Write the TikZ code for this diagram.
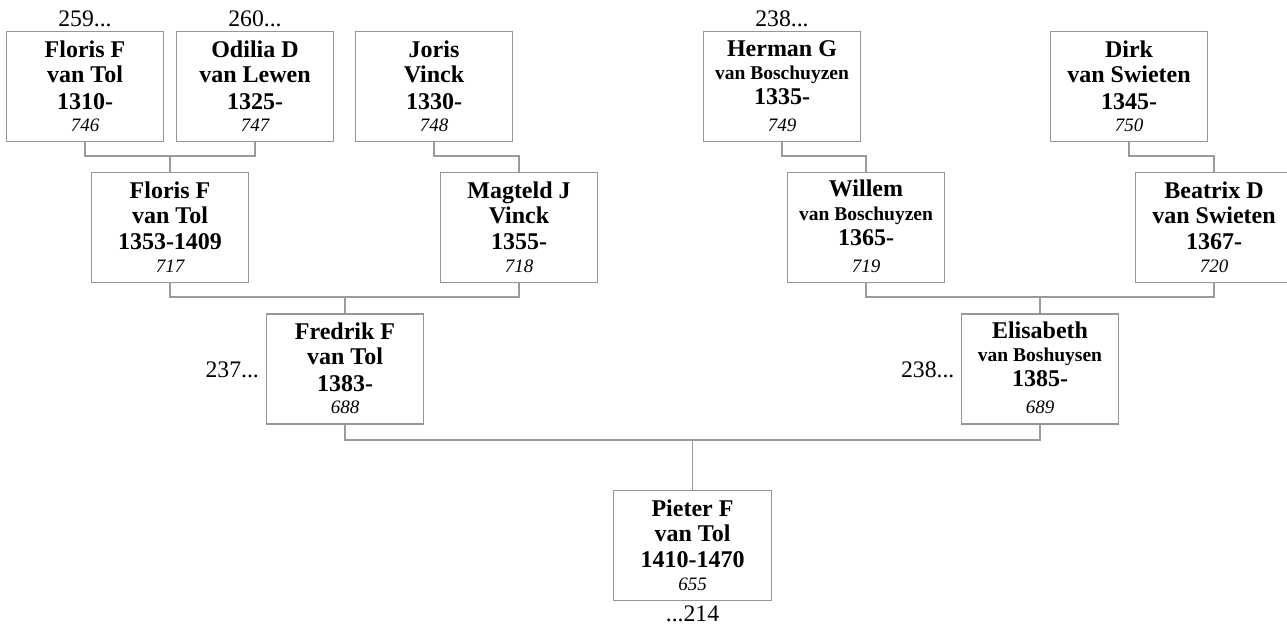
\documentclass[tikz,border=0pt]{standalone}
\usepackage{fontspec}
\setmainfont{Liberation Serif}
\definecolor{boxgray}{RGB}{150,150,150}
\definecolor{linegray}{RGB}{155,155,155}
\tikzset{
 pbox/.style={draw=boxgray, line width=1.3pt, minimum width=157.5pt, minimum height=110pt, inner sep=0pt, fill=white},
 nm/.style={anchor=base, inner sep=0pt, font=\fontsize{24}{24}\selectfont\bfseries},
 nmsmall/.style={anchor=base, inner sep=0pt, font=\fontsize{19.5}{19.5}\selectfont\bfseries},
 num/.style={anchor=base, inner sep=0pt, font=\fontsize{19}{19}\selectfont\itshape},
 reftxt/.style={inner sep=0pt, font=\fontsize{23.7}{23.7}\selectfont},
 conn/.style={draw=linegray, line width=1.4pt},
}
\newcommand\personA[7]{%
 \node[pbox] (#1) at (#2,#3) {};
 \node[nm] (#1-1) at ([yshift=-26.3pt]#1.north) {#4};
 \node[nm] (#1-2) at ([yshift=-51.3pt]#1.north) {#5};
 \node[nm] (#1-3) at ([yshift=-78pt]#1.north) {#6};
 \node[num] (#1-4) at ([yshift=-100.5pt]#1.north) {#7};
}
\newcommand\personB[7]{%
 \node[pbox] (#1) at (#2,#3) {};
 \node[nm] (#1-1) at ([yshift=-25pt]#1.north) {#4};
 \node[nmsmall] (#1-2) at ([yshift=-48.5pt]#1.north) {#5};
 \node[nm] (#1-3) at ([yshift=-73.3pt]#1.north) {#6};
 \node[num] (#1-4) at ([yshift=-100.5pt]#1.north) {#7};
}
\begin{document}
\begin{tikzpicture}[x=1pt,y=1pt]
\clip (0,0) rectangle (1287,-628);
\fill[white] (0,0) rectangle (1287,-628);
% generation 1
\personA{fl1}{85}{-86.7}{Floris F}{van Tol}{1310-}{746}
\personA{od}{255}{-86.7}{Odilia D}{van Lewen}{1325-}{747}
\personA{jo}{434}{-86.7}{Joris}{Vinck}{1330-}{748}
\personB{he}{782}{-86.7}{Herman G}{van Boschuyzen}{1335-}{749}
\personA{di}{1129}{-86.7}{Dirk}{van Swieten}{1345-}{750}
% generation 2
\personA{fl2}{170}{-227.5}{Floris F}{van Tol}{1353-1409}{717}
\personA{mg}{519}{-227.5}{Magteld J}{Vinck}{1355-}{718}
\personB{wi}{866}{-227.5}{Willem}{van Boschuyzen}{1365-}{719}
\personA{be}{1214}{-227.5}{Beatrix D}{van Swieten}{1367-}{720}
% generation 3
\personA{fr}{345}{-369}{Fredrik F}{van Tol}{1383-}{688}
\personB{el}{1040}{-369}{Elisabeth}{van Boshuysen}{1385-}{689}
% generation 4
\personA{pi}{692.5}{-545.5}{Pieter F}{van Tol}{1410-1470}{655}
% levels
\coordinate (y1) at (0,-156);
\coordinate (y2) at (0,-297);
\coordinate (y3) at (0,-440);
% connectors
\draw[conn] (fl1.south) |- (fl2.north |- y1) -| (od.south);
\draw[conn] (fl2.north |- y1) -- (fl2.north);
\draw[conn] (jo.south) |- (mg.north |- y1) -- (mg.north);
\draw[conn] (he.south) |- (wi.north |- y1) -- (wi.north);
\draw[conn] (di.south) |- (be.north |- y1) -- (be.north);
\draw[conn] (fl2.south) |- (fr.north |- y2) -| (mg.south);
\draw[conn] (fr.north |- y2) -- (fr.north);
\draw[conn] (wi.south) |- (el.north |- y2) -| (be.south);
\draw[conn] (el.north |- y2) -- (el.north);
\draw[conn] (fr.south) |- (pi.north |- y3) -| (el.south);
\draw[conn] (pi.north |- y3) -- (pi.north);
% reference labels
\node[reftxt, anchor=base] (r259) at ([yshift=5pt]fl1.north) {259...};
\node[reftxt, anchor=base] (r260) at ([yshift=5pt]od.north) {260...};
\node[reftxt, anchor=base] (r238a) at ([yshift=5pt]he.north) {238...};
\node[reftxt, anchor=base east] (r237) at ([xshift=-6.5pt,yshift=-64pt]fr.north west) {237...};
\node[reftxt, anchor=base east] (r238b) at ([xshift=-6pt,yshift=-64pt]el.north west) {238...};
\node[reftxt, anchor=base] (r214) at ([yshift=-20pt]pi.south) {...214};
\end{tikzpicture}
\end{document}
